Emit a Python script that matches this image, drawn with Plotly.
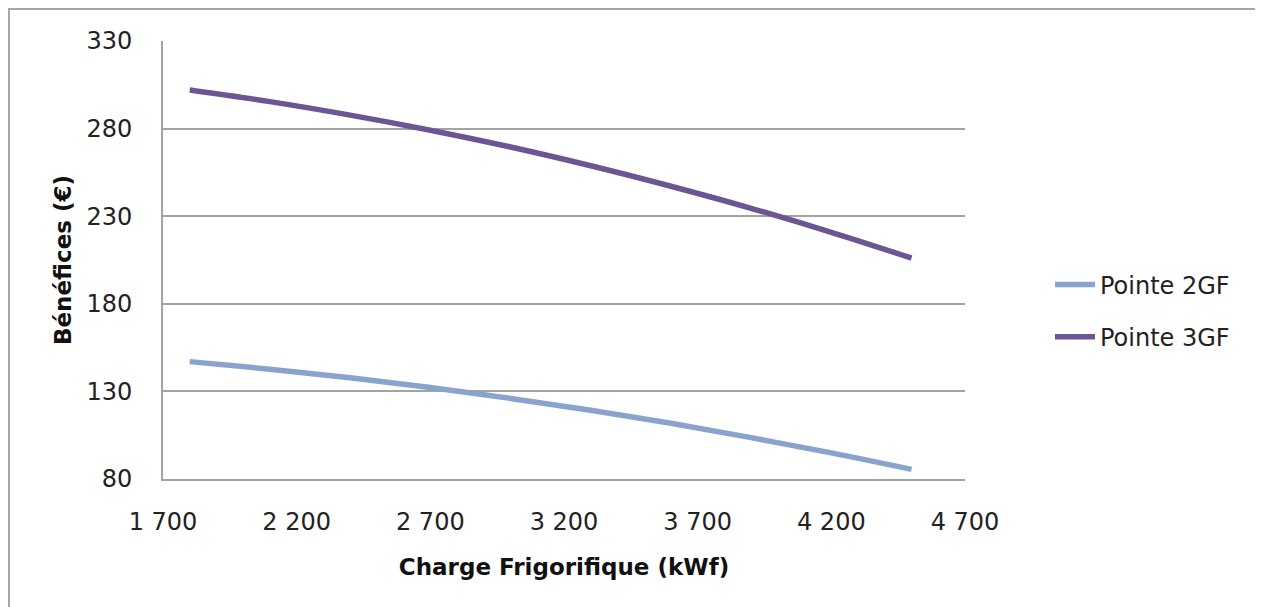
import plotly.graph_objects as go

# Data
charge = [1800, 2100, 2400, 2700, 3000, 3300, 3600, 3900, 4200, 4500]
pointe_2gf = [147.0, 142.7, 137.8, 132.2, 126.0, 119.2, 111.8, 103.6, 94.9, 85.5]
pointe_3gf = [302.0, 295.4, 287.7, 279.1, 269.5, 258.8, 247.1, 234.5, 220.8, 206.1]

x_tickvals = [1700, 2200, 2700, 3200, 3700, 4200, 4700]
x_ticktext = ["1 700", "2 200", "2 700", "3 200", "3 700", "4 200", "4 700"]
y_tickvals = [80, 130, 180, 230, 280, 330]

# page body has an 8px margin, so the figure is drawn at (8, 8)
W, H = 1255, 599
L, T = 155, 33
R = W - 957
B = H - 471
pw, ph = W - L - R, H - T - B

fig = go.Figure()
fig.add_trace(go.Scatter(x=charge, y=pointe_2gf, name="Pointe 2GF", mode="lines",
                         legendgroup="a",
                         line=dict(color="#8AA3CD", width=5.5, shape="spline")))
fig.add_trace(go.Scatter(x=charge, y=pointe_3gf, name="Pointe 3GF", mode="lines",
                         legendgroup="b",
                         line=dict(color="#6A5694", width=5.5, shape="spline")))

grid = "#A3A3A3"
fig.update_layout(
    width=W, height=H,
    margin=dict(l=L, r=R, t=T, b=B),
    paper_bgcolor="white", plot_bgcolor="white",
    showlegend=True,
    legend=dict(x=(1042 - L) / pw, y=(471 - 303) / ph, xanchor="left", yanchor="middle",
                font=dict(family="DejaVu Sans", size=24, color="#222"),
                tracegroupgap=18, itemwidth=40, bgcolor="rgba(0,0,0,0)"),
    xaxis=dict(range=[1700, 4700], tickvals=x_tickvals, ticktext=x_ticktext,
               showgrid=False, showline=True, linecolor=grid, linewidth=2,
               ticks="", ticklabelstandoff=20,
               tickfont=dict(family="DejaVu Sans", size=24, color="#222"),
               title=dict(text="<b>Charge Frigorifique (kWf)</b>", standoff=24,
                          font=dict(family="DejaVu Sans", size=23, color="#111"))),
    yaxis=dict(range=[80, 330], tickvals=y_tickvals,
               showgrid=True, gridcolor=grid, gridwidth=2,
               showline=True, linecolor=grid, linewidth=2, zeroline=False,
               ticks="", ticklabelstandoff=24,
               tickfont=dict(family="DejaVu Sans", size=24, color="#222"),
               title=dict(text="<b>Bénéfices (€)</b>", standoff=8,
                          font=dict(family="DejaVu Sans", size=23, color="#111"))),
)

# outer chart frame
fig.add_shape(type="rect", xref="paper", yref="paper",
              x0=(1 - L) / pw, x1=(1253 - L) / pw,
              y0=(471 - 620) / ph, y1=(471 - 1) / ph,
              line=dict(color="#A6A6A6", width=2), fillcolor="rgba(0,0,0,0)", layer="below")

fig.write_html("out.html")
